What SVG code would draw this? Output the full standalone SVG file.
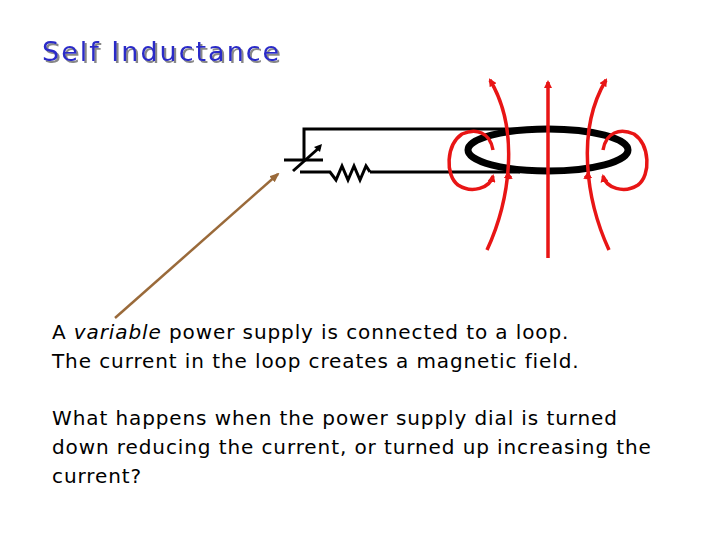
<svg xmlns="http://www.w3.org/2000/svg" width="720" height="540" viewBox="0 0 720 540">
<style>
.t{font-family:"DejaVu Sans",sans-serif;font-size:20px;fill:#000;letter-spacing:0.9px}
.r{fill:none;stroke:#e81515;stroke-width:3.5}
.w{fill:none;stroke:#000;stroke-width:3}
</style>
<defs>
<marker id="ra" markerWidth="8" markerHeight="8" refX="6" refY="4" orient="auto" markerUnits="userSpaceOnUse" viewBox="0 0 8 8"><path d="M0,0 L8,4 L0,8 z" fill="#e81515"/></marker>
<marker id="ba" markerWidth="10" markerHeight="10" refX="8" refY="5" orient="auto" markerUnits="userSpaceOnUse" viewBox="0 0 10 10"><path d="M0,1 L10,5 L0,9 z" fill="#9a6a3a"/></marker>
<filter id="sh" x="-5%" y="-20%" width="110%" height="140%"><feDropShadow dx="2" dy="2" stdDeviation="0.6" flood-color="#888"/></filter>
</defs>
<rect width="720" height="540" fill="#fff"/>
<g id="title">
<text x="42" y="61" font-family="DejaVu Sans,sans-serif" font-size="27" letter-spacing="2" fill="#2b2bc8" filter="url(#sh)">Self Inductance</text>
</g>
<g id="circuit">
<path class="w" d="M304,160 V129 H520 M370,172 H520"/>
<path class="w" d="M284,160 H323 M300,172 H322"/>
<path class="w" d="M293,171 L320,147" />
<path d="M322,144 L314,147 L320,152 z" fill="#000"/>
<path class="w" d="M322,172 L330,172 L336,180 L342,166 L348,180 L354,166 L360,180 L366,166 L370,172"/>
<ellipse cx="548" cy="150" rx="80" ry="21" fill="none" stroke="#000" stroke-width="7"/>
</g>
<g id="field">
<path class="r" d="M548,258 V82" marker-end="url(#ra)"/>
<path class="r" d="M487,250 C510,200 520,130 490,80" marker-end="url(#ra)"/>
<path class="r" d="M609,250 C586,200 576,130 606,80" marker-end="url(#ra)"/>
<path class="r" d="M493,150 C490,132 476,128 462,134 C446,145 445,175 458,185 C472,194 490,188 493,176" marker-end="url(#ra)"/>
<path class="r" d="M603,150 C606,132 620,128 634,134 C650,145 651,175 638,185 C624,194 606,188 603,176" marker-end="url(#ra)"/>
<path class="r" d="M508,176 L511,178" marker-end="url(#ra)"/>
<path class="r" d="M588,176 L585,178" marker-end="url(#ra)"/>
</g>
<g id="connectors">
<path d="M115,318 L278,174" stroke="#9a6a3a" stroke-width="2.5" fill="none" marker-end="url(#ba)"/>
</g>
<g id="text">
<text class="t" x="52" y="339">A <tspan font-style="italic">variable</tspan> power supply is connected to a loop.</text>
<text class="t" x="52" y="368">The current in the loop creates a magnetic field.</text>
<text class="t" x="52" y="425">What happens when the power supply dial is turned</text>
<text class="t" x="52" y="454">down reducing the current, or turned up increasing the</text>
<text class="t" x="52" y="483">current?</text>
</g>
</svg>
